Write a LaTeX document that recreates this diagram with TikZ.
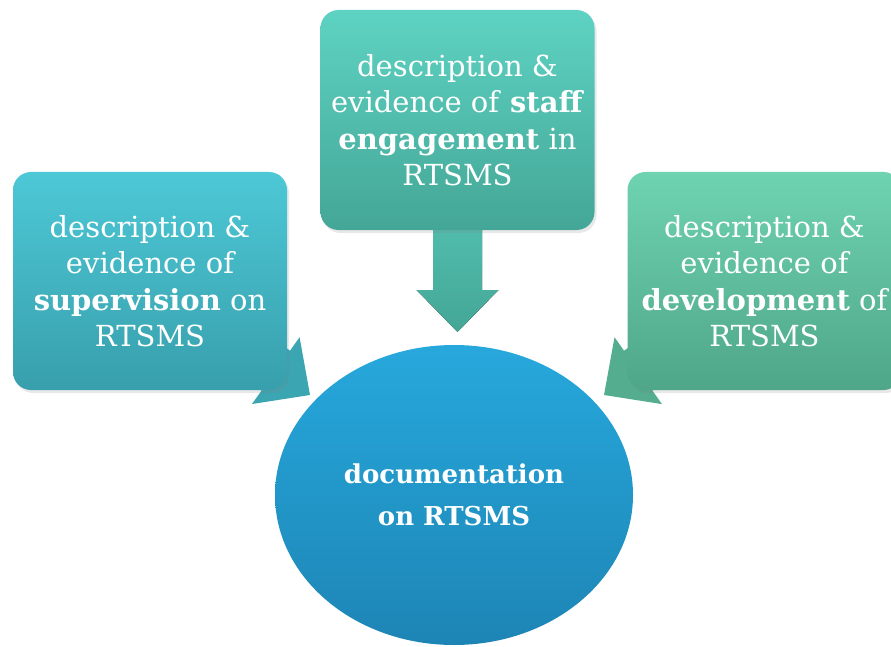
\documentclass[tikz,border=0pt]{standalone}
\usepackage{fontspec}
\setmainfont{DejaVu Serif}
\usetikzlibrary{calc,shapes.geometric,shadows}
\definecolor{supTop}{HTML}{4DC8D6}
\definecolor{supBot}{HTML}{389FAC}
\definecolor{engTop}{HTML}{5ED3C3}
\definecolor{engBot}{HTML}{44A696}
\definecolor{devTop}{HTML}{6ED3B1}
\definecolor{devBot}{HTML}{4FA689}
\definecolor{docTop}{HTML}{27A8DC}
\definecolor{docBot}{HTML}{1D85B5}
\pgfdeclarelayer{background}
\pgfsetlayers{background,main}
% arrow callout: #1 tail node, #2 tip, #3 style
\newcommand{\callarrow}[3]{%
  \coordinate (hb) at ($(#2)!42pt!(#1)$);
  \fill[#3] ($(#1)!24.5pt!90:(#2)$) -- ($(hb)!24.5pt!-90:(#1)$)
    -- ($(hb)!41pt!-90:(#1)$) -- (#2) -- ($(hb)!41pt!90:(#1)$)
    -- ($(hb)!24.5pt!90:(#1)$) -- ($(#1)!24.5pt!-90:(#2)$) -- cycle;}

\begin{document}
\begin{tikzpicture}[x=1pt,y=-1pt,
    txt/.style={text=white,align=center,font=\fontsize{29}{36.5}\selectfont},
    callbox/.style={txt,rounded corners=18pt,minimum width=274pt,minimum height=218pt,
      drop shadow={opacity=0.18,shadow xshift=2pt,shadow yshift=-3pt}},
    supbox/.style={callbox,top color=supTop,bottom color=supBot},
    engbox/.style={callbox,top color=engTop,bottom color=engBot,minimum height=220pt},
    devbox/.style={callbox,top color=devTop,bottom color=devBot},
    docnode/.style={txt,ellipse,minimum width=358pt,minimum height=300pt,
      top color=docTop,bottom color=docBot,font=\fontsize{26}{42}\selectfont\bfseries}]
  \useasboundingbox (0,0) rectangle (891,647);
  % ---- the three callouts
  \node[supbox] (sup) at (150,281)
    {description \&\\ evidence of\\ \textbf{supervision} on\\ RTSMS};
  \node[engbox] (eng) at (457.5,120)
    {description \&\\ evidence of \textbf{staff}\\ \textbf{engagement} in\\ RTSMS};
  \node[devbox] (dev) at (764.5,281)
    {description \&\\ evidence of\\ \textbf{development} of\\ RTSMS};
  % ---- central ellipse and the arrows under the boxes
  \begin{pgfonlayer}{background}
    \node[docnode] (doc) at (454,495) {documentation\\ on RTSMS};
    \coordinate (tipS) at (310,395);
    \coordinate (tipE) at (457.5,332);
    \coordinate (tipD) at (604,395);
    \callarrow{sup}{tipS}{fill=supBot!85!supTop}
    \callarrow{eng}{tipE}{top color=engTop,bottom color=engBot}
    \callarrow{dev}{tipD}{fill=devBot!85!devTop}
  \end{pgfonlayer}
\end{tikzpicture}
\end{document}
